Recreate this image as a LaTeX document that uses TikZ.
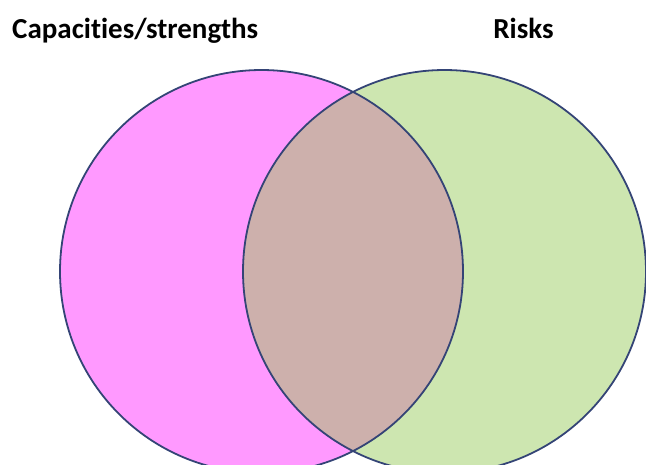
\documentclass[tikz,border=0pt]{standalone}
\usepackage{fontspec}
\setmainfont{Carlito}[Ligatures=NoCommon]
\usepackage{xcolor}
\usepackage{tikz}
\usetikzlibrary{positioning}

\definecolor{capfill}{RGB}{255,153,255}
\definecolor{riskfill}{RGB}{205,230,176}
\definecolor{bothfill}{RGB}{205,176,172}
\definecolor{rimblue}{RGB}{52,68,118}

\tikzset{
  heading/.style={font=\bfseries\fontsize{29}{33}\selectfont, inner sep=0pt},
  rim/.style={draw=rimblue, line width=1.8pt}
}

\begin{document}
\begin{tikzpicture}[x=1pt, y=-1pt]
        \useasboundingbox (0,0) rectangle (646,464);

        \fill[capfill] (261.5,271.5) circle (201.5);
		\fill[riskfill] (444.5,271.5) circle (201.5);
        \begin{scope}
            \clip (261.5,271.5) circle (201.5);
            \fill[bothfill] (444.5,271.5) circle (201.5);
        \end{scope}
        \draw[rim] (261.5,271.5) circle (201.5);
		\draw[rim] (444.5,271.5) circle (201.5);

        \node[heading, anchor=base west] (capacities) at (12,38) {Capacities/strengths};
        \node[heading, anchor=base] (risks) at (523.5,38) {Risks};

    \end{tikzpicture}
\end{document}
